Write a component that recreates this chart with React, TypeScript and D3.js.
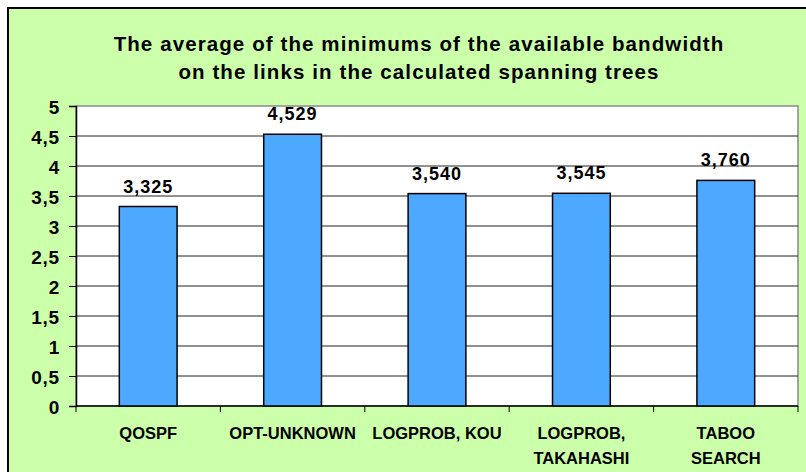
import React, { useRef, useEffect } from 'react';
import * as d3 from 'd3';

const categories = ['QOSPF', 'OPT-UNKNOWN', 'LOGPROB, KOU', 'LOGPROB,|TAKAHASHI', 'TABOO|SEARCH'];
const values = [3.325, 4.529, 3.54, 3.545, 3.76];
const valueLabels = ['3,325', '4,529', '3,540', '3,545', '3,760'];
const yTicks = [0, 0.5, 1, 1.5, 2, 2.5, 3, 3.5, 4, 4.5, 5];
const titleLines = [
  'The average of the minimums of the available bandwidth',
  'on the links in the calculated spanning trees',
];

const width = 806;
const height = 472;
const margin = { top: 106, right: 8, bottom: 66, left: 76 };
const font = '"Liberation Sans", Arial, sans-serif';

const App = () => {
  const ref = useRef<SVGSVGElement | null>(null);

  useEffect(() => {
    if (!ref.current) return;
    const svg = d3.select(ref.current);
    svg.selectAll('*').remove();

    // background + frame
    svg.append('rect').attr('width', width).attr('height', height).attr('fill', '#fff');
    svg.append('rect')
      .attr('x', 8).attr('y', 8)
      .attr('width', width + 10).attr('height', height + 10)
      .attr('fill', '#ccffaa')
      .attr('stroke', '#000')
      .attr('stroke-width', 2);

    // title
    svg.append('g').selectAll('text')
      .data(titleLines)
      .enter()
      .append('text')
      .attr('x', 419)
      .attr('y', (d, i) => 51 + i * 28)
      .attr('text-anchor', 'middle')
      .attr('font-family', font)
      .attr('font-weight', 'bold')
      .attr('font-size', '20.5px')
      .attr('letter-spacing', '1.1px')
      .text(d => d);

    const x = d3.scaleBand()
      .domain(categories)
      .range([margin.left, width - margin.right])
      .paddingInner(0.6)
      .paddingOuter(0.3);

    const y = d3.scaleLinear()
      .domain([0, 5])
      .range([height - margin.bottom, margin.top]);

    // plot area
    svg.append('rect')
      .attr('x', margin.left).attr('y', margin.top)
      .attr('width', width - margin.right - margin.left)
      .attr('height', height - margin.bottom - margin.top)
      .attr('fill', '#fff')
      .attr('stroke', '#8a8a8a')
      .attr('stroke-width', 1.5);

    // gridlines
    svg.append('g').selectAll('line')
      .data(yTicks.filter(t => t > 0 && t < 5))
      .enter()
      .append('line')
      .attr('x1', margin.left).attr('x2', width - margin.right)
      .attr('y1', d => y(d)).attr('y2', d => y(d))
      .attr('stroke', '#222')
      .attr('stroke-width', 1);

    // y axis
    const yAxis = d3.axisLeft(y)
      .tickValues(yTicks)
      .tickSize(7)
      .tickPadding(9)
      .tickFormat(d => String(d).replace('.', ','));
    const ya = svg.append('g')
      .attr('transform', `translate(${margin.left},0)`)
      .call(yAxis);
    ya.select('.domain').attr('stroke', '#000').attr('stroke-width', 1.5);
    ya.selectAll('.tick line').attr('stroke', '#000');
    ya.selectAll('.tick text')
      .attr('font-family', font)
      .attr('font-weight', 'bold')
      .attr('font-size', '19px')
      .attr('letter-spacing', '0.8px')
      .attr('dy', '0.4em')
      .attr('fill', '#000');

    // x axis ticks at band boundaries
    const xa = svg.append('g');
    xa.append('line')
      .attr('x1', margin.left).attr('x2', width - margin.right)
      .attr('y1', y(0)).attr('y2', y(0))
      .attr('stroke', '#000').attr('stroke-width', 1.5);
    const bandW = (width - margin.right - margin.left) / categories.length;
    xa.selectAll('.xt')
      .data(d3.range(categories.length + 1))
      .enter()
      .append('line')
      .attr('x1', i => margin.left + i * bandW).attr('x2', i => margin.left + i * bandW)
      .attr('y1', y(0)).attr('y2', y(0) + 6)
      .attr('stroke', '#000');

    // bars
    svg.append('g').selectAll('rect')
      .data(values)
      .enter()
      .append('rect')
      .attr('x', (d, i) => x(categories[i]) as number)
      .attr('y', d => y(d))
      .attr('width', x.bandwidth())
      .attr('height', d => y(0) - y(d))
      .attr('fill', '#4da9ff')
      .attr('stroke', '#000')
      .attr('stroke-width', 1.5);

    // value labels
    svg.append('g').selectAll('text')
      .data(values)
      .enter()
      .append('text')
      .attr('x', (d, i) => (x(categories[i]) as number) + x.bandwidth() / 2)
      .attr('y', d => y(d) - 14)
      .attr('text-anchor', 'middle')
      .attr('font-family', font)
      .attr('font-weight', 'bold')
      .attr('font-size', '18px')
      .attr('letter-spacing', '1px')
      .text((d, i) => valueLabels[i]);

    // category labels
    const cl = svg.append('g').selectAll('text')
      .data(categories)
      .enter()
      .append('text')
      .attr('text-anchor', 'middle')
      .attr('font-family', font)
      .attr('font-weight', 'bold')
      .attr('font-size', '16.5px');
    cl.each(function (d) {
      const t = d3.select(this);
      const cx = (x(d) as number) + x.bandwidth() / 2;
      d.split('|').forEach((line, j) => {
        t.append('tspan').attr('x', cx).attr('y', 439 + j * 25).text(line);
      });
    });
  }, []);

  return (
    <svg ref={ref} width={width} height={height} style={{ position: 'absolute', left: 0, top: 0 }}></svg>
  );
};

export default App;
